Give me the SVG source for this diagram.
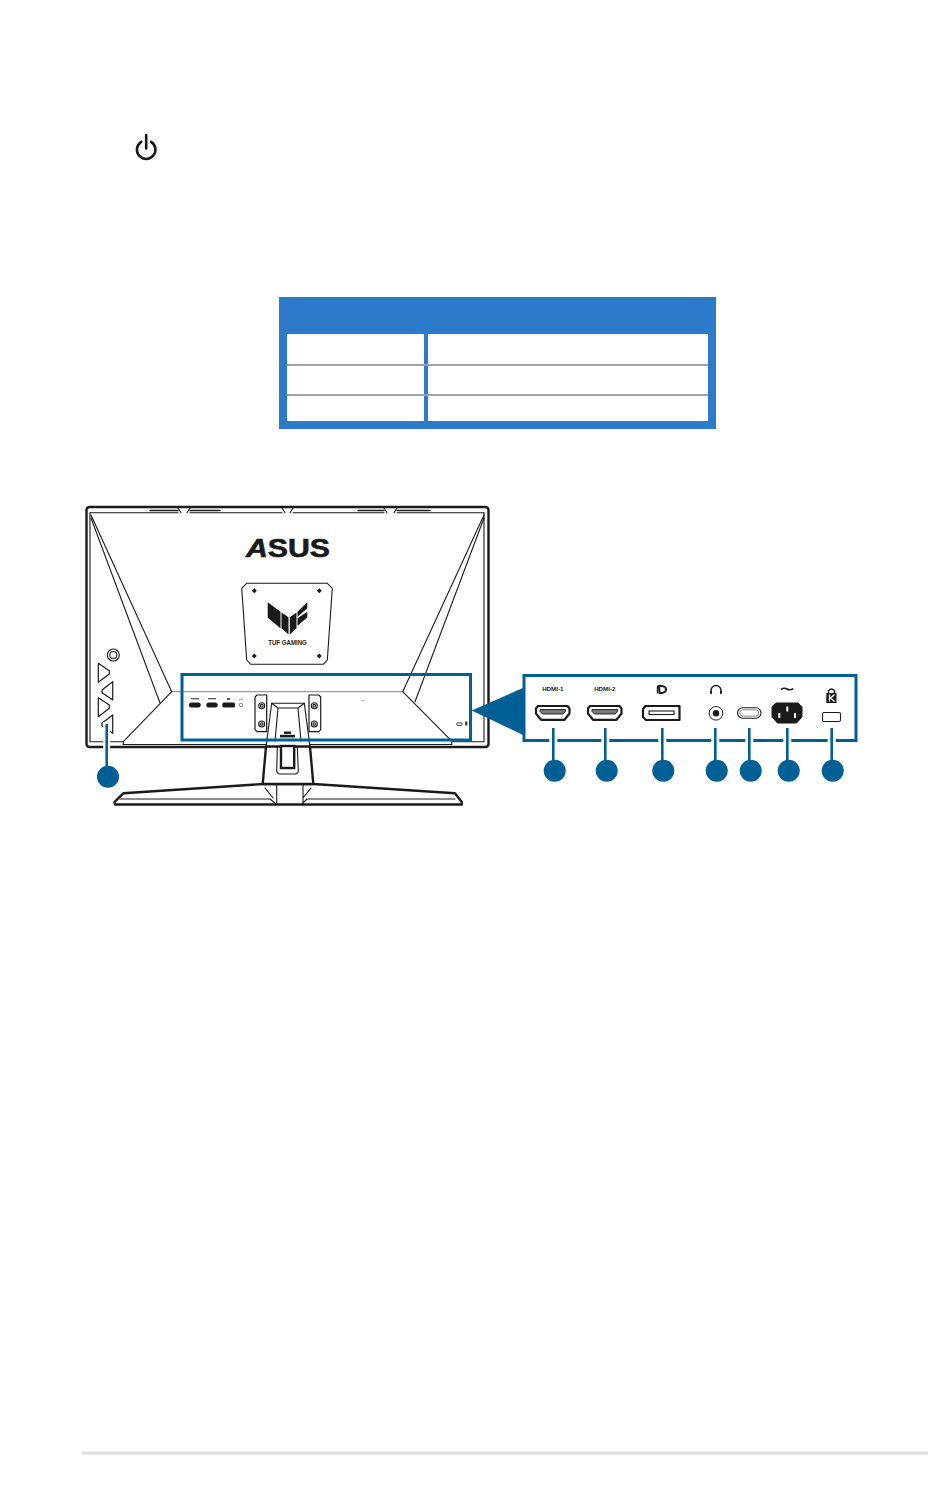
<svg xmlns="http://www.w3.org/2000/svg" width="950" height="1485" viewBox="0 0 950 1485">
<style>
.bg{fill:#fff}
.hdr{fill:#2b7bc8}
.rowline{stroke:#a3a3a3;stroke-width:2;fill:none}
.k{fill:none;stroke:#1a1a1a;stroke-width:1.100;stroke-linejoin:round;stroke-linecap:round}
.k2{fill:none;stroke:#1a1a1a;stroke-width:1.500;stroke-linejoin:round;stroke-linecap:round}
.g{fill:none;stroke:#9a9a9a;stroke-width:1.200}
.f{fill:#1a1a1a}
.wf{fill:#fff;stroke:#1a1a1a;stroke-width:1.200;stroke-linejoin:round}
.port{fill:#fff;stroke:#1a1a1a;stroke-width:2.200;stroke-linejoin:round}
.box{fill:none;stroke:#005f95;stroke-width:3}
.halo{stroke:#fff;stroke-width:8;fill:none}
.lead{stroke:#005f95;stroke-width:2.600;fill:none}
.dot{fill:#005f95}
.lbl{font-family:"Liberation Sans",Arial,sans-serif;font-weight:700;fill:#1a1a1a;text-anchor:middle}
</style>
<rect class="bg" width="950" height="1485"/>

<g id="power-icon">
<path d="M141.200 141.800A9.300 9.300 0 1 0 151.200 141.800" fill="none" stroke="#1a1a1a" stroke-width="2.600" stroke-linecap="round"/>
<path d="M146.200 135V148.500" fill="none" stroke="#1a1a1a" stroke-width="2.600" stroke-linecap="round"/>
</g>

<g id="table">
<rect class="hdr" x="279" y="297" width="437" height="132"/>
<rect class="bg" x="287" y="334" width="137" height="87"/>
<rect class="bg" x="428" y="334" width="280" height="87"/>
<path class="rowline" d="M287 365H708M287 395H708"/>
</g>

<g id="monitor">
<rect x="86.500" y="507" width="402" height="240" rx="3" fill="#fff" stroke="#1a1a1a" stroke-width="2.400"/>
<path class="k" d="M90 512.700H178M190 512.700H282M293 512.700H384M397 512.700H484"/>
<path class="k2" d="M150 510.500H178M190 510.500H220M358 510.500H384M397 510.500H430"/>
<path class="k" d="M178 508L181 512.700M190 508L187 512.700M282 508L285 512.700M293 508L290 512.700M384 508L387 512.700M397 508L394 512.700"/>
<path class="k" d="M90 512.700V741.700H123.300M484 512.700V741.700H451.700"/>
<path class="k" d="M91 515L171.700 691.700M91 518L160 703M484 515L402.700 691.700M484 518L415 701.700"/>
<path class="g" d="M171.700 691.700H402.700"/>
<path class="k" d="M171.700 691.700L123.300 741.700M402.700 691.700L450 739.300"/>
<path class="k" d="M123.300 741.700V744.500M451.700 741.700V744.500"/>
<path class="k" d="M123.300 744.500H451.700"/>

<g id="vents">
<path class="wf" d="M98.300 663.300L109.300 670.700V674L98.300 682.300Z"/>
<path class="wf" d="M112.700 681.700V700L102 692.700V690Z"/>
<path class="wf" d="M98.300 697.700L109.300 705V708.300L98.300 716.700Z"/>
<path class="wf" d="M112.700 715V733.300L102 726V723.300Z"/>
</g>
<circle class="k" cx="113.300" cy="655" r="6"/>
<circle class="k" cx="113.300" cy="655" r="3.500"/>

<g id="asus-logo">
<text x="288" y="557" font-family="Liberation Sans,Arial,sans-serif" font-weight="700" font-size="25" fill="#1a1a1a" stroke="#1a1a1a" stroke-width=".6" textLength="84" lengthAdjust="spacingAndGlyphs" text-anchor="middle"><tspan font-style="italic">A</tspan>SUS</text>
</g>

<g id="vesa-plate">
<path class="k" d="M241.700 588.300L246.700 583.300H327.300L332.300 588.300L327.300 660L323.300 664.300H250.700L246.700 660Z"/>
<path class="f" d="M254.300 588.200l2.500 2.500-2.500 2.500-2.500-2.500zM319.300 588.200l2.500 2.500-2.500 2.500-2.500-2.500zM254.300 653.500l2.500 2.500-2.500 2.500-2.500-2.500zM319.300 653.500l2.500 2.500-2.500 2.500-2.500-2.500z"/>
<path class="f" d="M267.700 602.300L280.500 611.700V628.300L267.700 617.700ZM281.500 612.500L288.500 617.300V634.500L281.500 628.300ZM289.800 617.300L296.500 612.500V628.300L289.800 634.500ZM297.500 611.700L307.300 602.300V608.300L297.500 616.700ZM297.500 618.300L307.300 611.700V617.300L297.500 626Z"/>
<text class="lbl" x="287.500" y="645" font-size="7.800" textLength="38.500" lengthAdjust="spacingAndGlyphs">TUF GAMING</text>
</g>

<g id="mini-ports">
<rect class="f" x="189" y="702.500" width="11.700" height="5" rx="2.500"/>
<rect class="f" x="206.300" y="702.500" width="11.400" height="5" rx="2.500"/>
<rect class="f" x="222.300" y="702.500" width="12.700" height="5" rx="1.500"/>
<rect x="191" y="698" width="8" height="1.300" fill="#555"/>
<rect x="208" y="698" width="8" height="1.300" fill="#555"/>
<rect x="227" y="698" width="3" height="2" fill="#555"/>
<path d="M239.500 700.500a1.600 1.600 0 0 1 3.200 0" fill="none" stroke="#555" stroke-width=".6"/>
<circle cx="241" cy="705" r="1.800" fill="none" stroke="#555" stroke-width=".7"/>
<rect x="456.700" y="722.800" width="5.500" height="2.600" rx="1.300" fill="#fff" stroke="#1a1a1a" stroke-width=".8"/>
<rect x="465.200" y="721.500" width="2.200" height="4" fill="#333"/>
<path d="M361.500 700l1.200 1 1.200-.6" fill="none" stroke="#444" stroke-width=".6"/>
</g>

<g id="stand">
<path class="wf" d="M255 697L257 695H266.700V731.700H257L255 729.700Z"/>
<path class="wf" d="M309 695H318.700L320.700 697V729.700L318.700 731.700H309Z"/>
<g fill="#fff" stroke="#1a1a1a" stroke-width="1.100">
<circle cx="261.700" cy="705.700" r="3"/><circle cx="261.700" cy="724" r="3"/><circle cx="314.300" cy="705.700" r="3"/><circle cx="314.300" cy="724" r="3"/>
<circle cx="261.700" cy="705.700" r="1.300"/><circle cx="261.700" cy="724" r="1.300"/><circle cx="314.300" cy="705.700" r="1.300"/><circle cx="314.300" cy="724" r="1.300"/>
</g>
<path d="M271.700 703.300H304.300L310 747H266Z" fill="#fff" stroke="#1a1a1a" stroke-width="1.100"/>
<path class="k" d="M271.700 703.300L278 708H298L304.300 703.300M278 708L275 741M298 708L301 741"/>
<rect class="f" x="280" y="734.800" width="15" height="2.600"/>
<rect class="f" x="284" y="731.500" width="7" height="2.400"/>
<path d="M114.500 802L123.300 793.300L262.700 784H313.300L455 793.300L461.700 802V804.500H115Z" fill="#fff" stroke="#1a1a1a" stroke-width="2.400" stroke-linejoin="round"/>
<path d="M266 746.500L262.700 784H313.300L310 746.500Z" fill="#fff" stroke="#1a1a1a" stroke-width="2.400" stroke-linejoin="round"/>
<path class="k" d="M277.300 747L276.700 771Q277 774 280 774H295Q298 774 298.300 771L297.300 747"/>
<rect x="281" y="746" width="13.200" height="22" fill="#fff" stroke="#1a1a1a" stroke-width="2.400"/>
<path class="k" d="M120 799H270L276 804M455 799H307L302 804M276.700 784V804M303 784V804M265 788L273 798M311 788L303 798"/>
</g>
</g>

<g id="connectors">
<path d="M106.700 722V766" class="halo" style="stroke-width:7"/>
<path d="M106.700 724V766" class="lead"/>
<path d="M471.700 710.500L523 688V735Z" fill="#005f95"/>
<rect class="box" x="182" y="674.500" width="288.500" height="65.500"/>
<rect class="box" x="524" y="675.500" width="332" height="65"/>
<path class="halo" d="M553.300 738V744M605.300 738V744M662.300 738V744M715.300 738V744M749.300 738V744M787.300 738V744M831.700 738V744"/>
<path class="lead" d="M553.300 728V760M605.300 728V760M662.300 728V760M715.300 728V760M749.300 728V760M787.300 728V760M831.700 728V760"/>
</g>

<g id="callout-left"><circle class="dot" cx="108" cy="776.700" r="11"/></g>
<g id="callout-1"><circle class="dot" cx="554.700" cy="770.700" r="11"/></g>
<g id="callout-2"><circle class="dot" cx="606.700" cy="770.700" r="11"/></g>
<g id="callout-3"><circle class="dot" cx="663.300" cy="770.700" r="11"/></g>
<g id="callout-4"><circle class="dot" cx="716.700" cy="770.700" r="11"/></g>
<g id="callout-5"><circle class="dot" cx="750.700" cy="770.700" r="11"/></g>
<g id="callout-6"><circle class="dot" cx="788.700" cy="770.700" r="11"/></g>
<g id="callout-7"><circle class="dot" cx="832.700" cy="770.700" r="11"/></g>

<g id="port-hdmi-1">
<text class="lbl" x="552.800" y="691" font-size="6.200">HDMI-1</text>
<path class="port" d="M536 708.500L538 706H567.500L569.500 708.500V713.500L564.500 719.800H541L536 713.500Z"/>
<path d="M540 709.500H565.500V711.500L563 714H542.500L540 711.500Z" fill="#777" stroke="#1a1a1a" stroke-width=".9"/>
</g>
<g id="port-hdmi-2">
<text class="lbl" x="604.800" y="691" font-size="6.200">HDMI-2</text>
<path class="port" d="M588 708.500L590 706H619.500L621.500 708.500V713.500L616.500 719.800H593L588 713.500Z"/>
<path d="M592 709.500H617.500V711.500L615 714H594.500L592 711.500Z" fill="#777" stroke="#1a1a1a" stroke-width=".9"/>
</g>
<g id="port-displayport">
<path d="M657.500 685.500V693.500" fill="none" stroke="#1a1a1a" stroke-width="1.400"/>
<path d="M659 686H661.500Q666 686.500 666 689.500T661.500 693H659.500Z" fill="none" stroke="#1a1a1a" stroke-width="2"/>
<path class="port" d="M643 709L645.500 706H679.500V720H646L643 717Z"/>
<rect x="649" y="711" width="25" height="3.500" fill="#fff" stroke="#1a1a1a" stroke-width="1.100"/>
</g>
<g id="port-audio">
<path d="M711 692V690.500A4.800 4.800 0 0 1 721 690.500V692" fill="none" stroke="#1a1a1a" stroke-width="1.400"/>
<rect x="710" y="690.800" width="2" height="3" fill="#1a1a1a"/>
<rect x="720" y="690.800" width="2" height="3" fill="#1a1a1a"/>
<circle cx="716" cy="713.300" r="6.800" fill="#fff" stroke="#1a1a1a" stroke-width="1"/>
<circle cx="716" cy="713.300" r="3.200" fill="#1a1a1a"/>
</g>
<g id="port-pill">
<rect x="737.500" y="707.800" width="23.500" height="10.400" rx="5.200" fill="#fff" stroke="#1a1a1a" stroke-width="1.100"/>
<rect x="739.800" y="709.800" width="19" height="6.400" rx="3.200" fill="#fff" stroke="#888" stroke-width="1"/>
</g>
<g id="port-power">
<path d="M781 689.500Q784 687.200 787 689Q790 690.800 793.300 688.600" fill="none" stroke="#1a1a1a" stroke-width="1.600"/>
<path d="M776 703H798L802 707V717L796.500 723H777.500L772 717V707Z" fill="#1a1a1a" stroke="#1a1a1a" stroke-width="1"/>
<path d="M786.300 706.500h2v5h-2zM778.300 713h2v5h-2zM794 713h2v5h-2z" fill="#fff"/>
</g>
<g id="port-lock">
<path d="M828.500 693V691A3.200 3.200 0 0 1 834.500 691V693" fill="none" stroke="#1a1a1a" stroke-width="1.500"/>
<rect x="826.300" y="693" width="10.200" height="10" fill="#1a1a1a"/>
<path d="M829.500 694.500V701.500M834.500 694.500L830.500 698L834.500 701.500" fill="none" stroke="#fff" stroke-width="1.300"/>
<rect x="822.500" y="712.500" width="18" height="9" rx="1.500" fill="#fff" stroke="#1a1a1a" stroke-width="1.100"/>
</g>

<g id="footer-rule"><path d="M82 1453H928" stroke="#dcdcdc" stroke-width="3" fill="none"/></g>
</svg>
